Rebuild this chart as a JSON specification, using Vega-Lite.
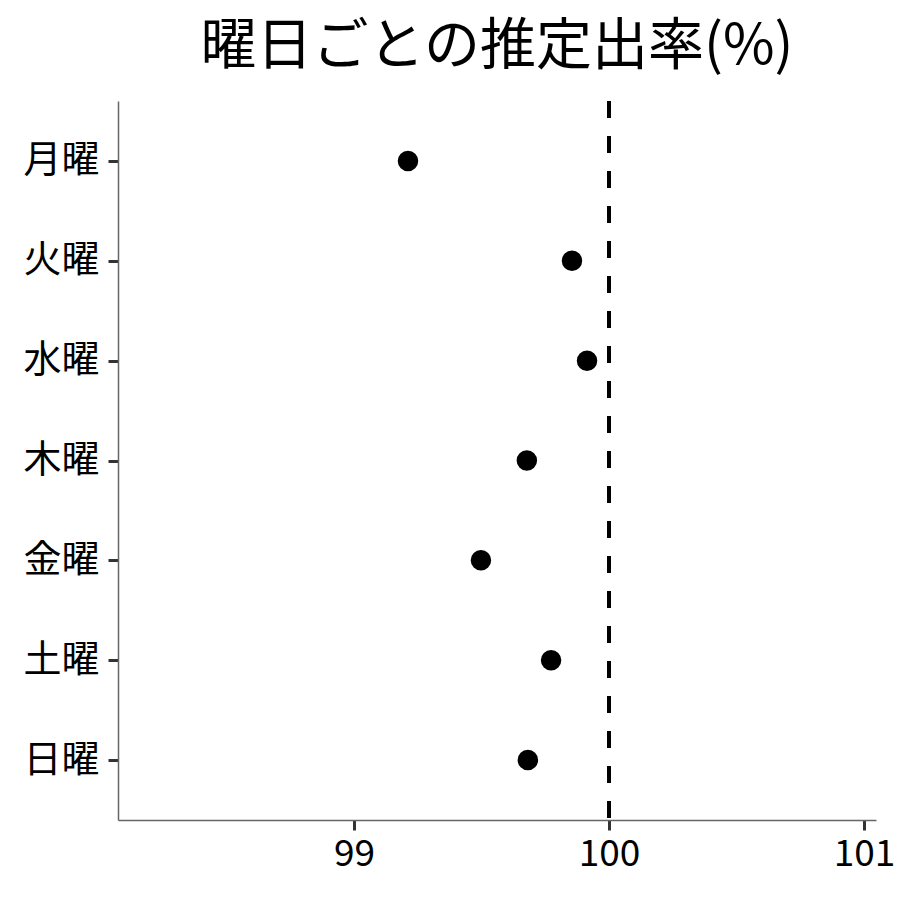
{
  "$schema": "https://vega.github.io/schema/vega-lite/v6.json",
  "autosize": "none",
  "width": 758,
  "height": 719,
  "padding": {"left": 118, "top": 101, "right": 24, "bottom": 80},
  "background": "white",
  "title": {
    "text": "曜日ごとの推定出率(%)",
    "fontSize": 56,
    "font": "Noto Sans CJK JP",
    "fontWeight": "normal",
    "color": "black",
    "anchor": "middle",
    "frame": "group",
    "offset": 23
  },
  "data": {
    "values": [
      {"day": "月曜", "rate": 99.212},
      {"day": "火曜", "rate": 99.855},
      {"day": "水曜", "rate": 99.914},
      {"day": "木曜", "rate": 99.678},
      {"day": "金曜", "rate": 99.498},
      {"day": "土曜", "rate": 99.773},
      {"day": "日曜", "rate": 99.682}
    ]
  },
  "layer": [
    {
      "mark": {"type": "rule", "strokeDash": [17, 18], "strokeWidth": 3.5, "color": "black"},
      "encoding": {"x": {"datum": 100, "type": "quantitative"}}
    },
    {
      "mark": {"type": "circle", "size": 420, "opacity": 1, "color": "black"},
      "encoding": {
        "x": {
          "field": "rate",
          "type": "quantitative",
          "title": null,
          "scale": {"domain": [98.075, 101.047], "nice": false, "zero": false},
          "axis": {"values": [99, 100, 101], "format": "d", "labelFontSize": 37, "labelPadding": 6}
        },
        "y": {
          "field": "day",
          "type": "nominal",
          "title": null,
          "sort": ["月曜", "火曜", "水曜", "木曜", "金曜", "土曜", "日曜"],
          "scale": {"type": "point", "padding": 0.6},
          "axis": {"labelFontSize": 38, "labelPadding": 9}
        }
      }
    }
  ],
  "config": {
    "view": {"stroke": null},
    "axis": {
      "grid": false,
      "domainColor": "#666666",
      "domainWidth": 1.5,
      "tickColor": "#333333",
      "tickWidth": 3,
      "tickSize": 10,
      "labelFont": "Noto Sans CJK JP",
      "labelColor": "black"
    }
  }
}
